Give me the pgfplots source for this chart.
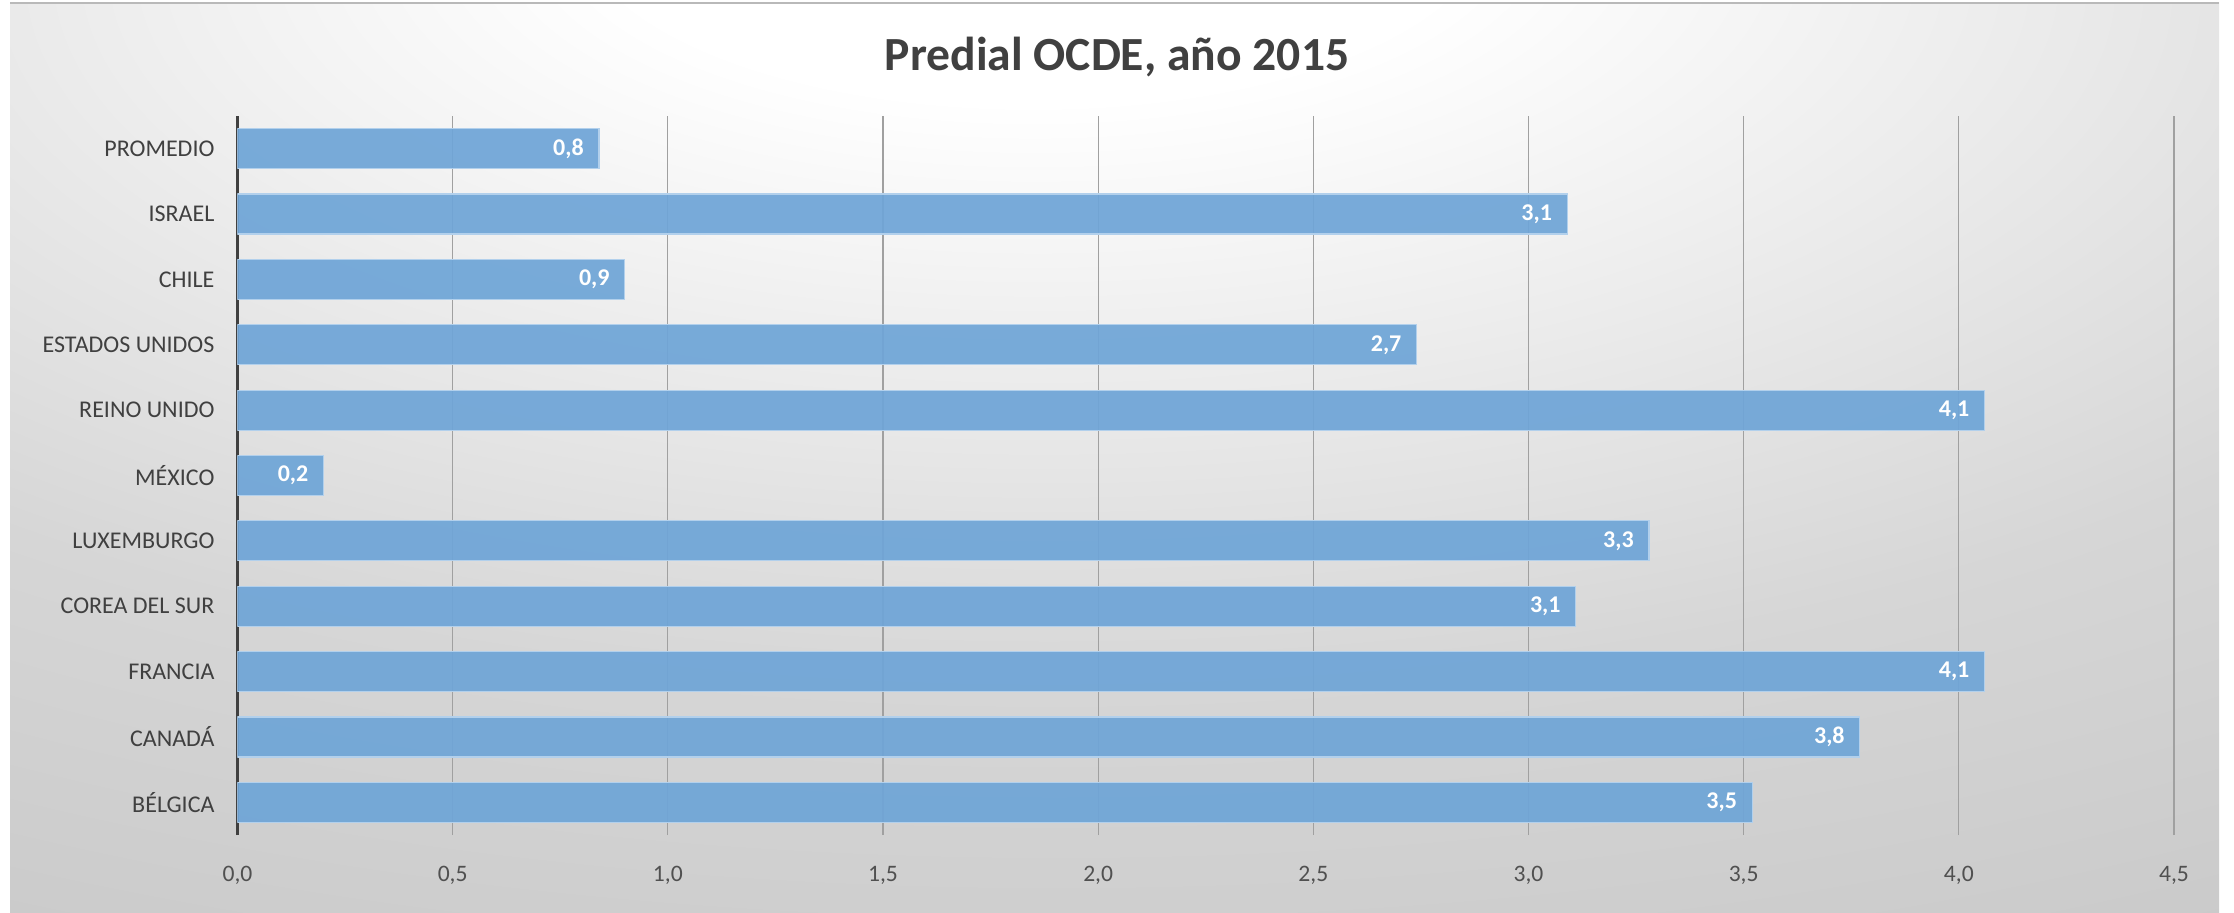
\documentclass[border=0pt]{standalone}
\usepackage{pgfplots}
\usepackage{pgfplotstable}
\pgfplotsset{compat=1.18}
\usepackage{fontspec}
\setmainfont{Carlito}

\definecolor{barblue}{RGB}{111,165,215}
\definecolor{baredge}{RGB}{178,208,236}
\definecolor{txtgray}{RGB}{64,64,64}
\definecolor{tickgray}{RGB}{80,80,80}
\definecolor{gridgray}{RGB}{160,160,160}
\definecolor{bgmid}{RGB}{214,214,214}
\definecolor{bgedge}{RGB}{196,196,196}

\pgfdeclareradialshading{chartbg}{\pgfpoint{-2bp}{32bp}}{%
  color(0bp)=(white); color(10bp)=(white); color(36bp)=(bgmid); color(60bp)=(bgedge); color(130bp)=(bgedge)}

% values, bottom category first
\pgfplotstableread{
idx val
0  3.52
1  3.77
2  4.06
3  3.11
4  3.28
5  0.20
6  4.06
7  2.74
8  0.90
9  3.09
10 0.84
}\predial

\begin{document}
\begin{tikzpicture}
\fill[white] (0pt,0pt) rectangle (1117pt,456pt);
\shade[shading=chartbg] (5pt,0pt) rectangle (1109.5pt,454.5pt);
\draw[gray!55, line width=1pt] (5pt,454.5pt) -- (1109.5pt,454.5pt);
\node[font=\bfseries\fontsize{23.8}{28}\selectfont, text=txtgray] at (558.5pt,427.5pt) {Predial OCDE, año 2015};
\begin{axis}[
    at={(118.75pt,38.5pt)}, anchor=south west,
    width=968.25pt, height=359.5pt, scale only axis,
    xbar, bar width=20pt,
    xmin=0, xmax=4.5,
    ymin=-0.5, ymax=10.5,
    xtick={0,0.5,...,4.5},
    ytick={0,...,10},
    yticklabels={BÉLGICA, CANADÁ, FRANCIA, COREA DEL SUR, LUXEMBURGO, MÉXICO,
                 REINO UNIDO, ESTADOS UNIDOS, CHILE, ISRAEL, PROMEDIO},
    axis x line=bottom, axis y line=left,
    axis line style={-},
    x axis line style={draw=none},
    y axis line style={draw=txtgray, line width=1.5pt},
    xmajorgrids,
    major grid style={draw=gridgray, line width=0.6pt},
    major tick length=0pt,
    tick style={draw=none},
    /pgf/number format/.cd, use comma, fixed, fixed zerofill, precision=1, assume math mode=true,
    /pgfplots/.cd,
    xticklabel style={font=\fontsize{11.8}{13}\selectfont, text=tickgray, yshift=-12pt},
    yticklabel style={font=\fontsize{12}{14}\selectfont, text=txtgray, xshift=-8pt},
    nodes near coords={\pgfmathprintnumber[fixed, fixed zerofill, precision=1, use comma]{\pgfplotspointmeta}},
    point meta=x,
]
\addplot[fill=barblue, fill opacity=0.93, draw=baredge, line width=0.6pt,
    every node near coord/.append style={anchor=east, xshift=-4pt, text=white, text opacity=1,
        font=\bfseries\fontsize{12}{14}\selectfont}]
    table[x=val, y=idx] {\predial};
\end{axis}
\end{tikzpicture}
\end{document}
